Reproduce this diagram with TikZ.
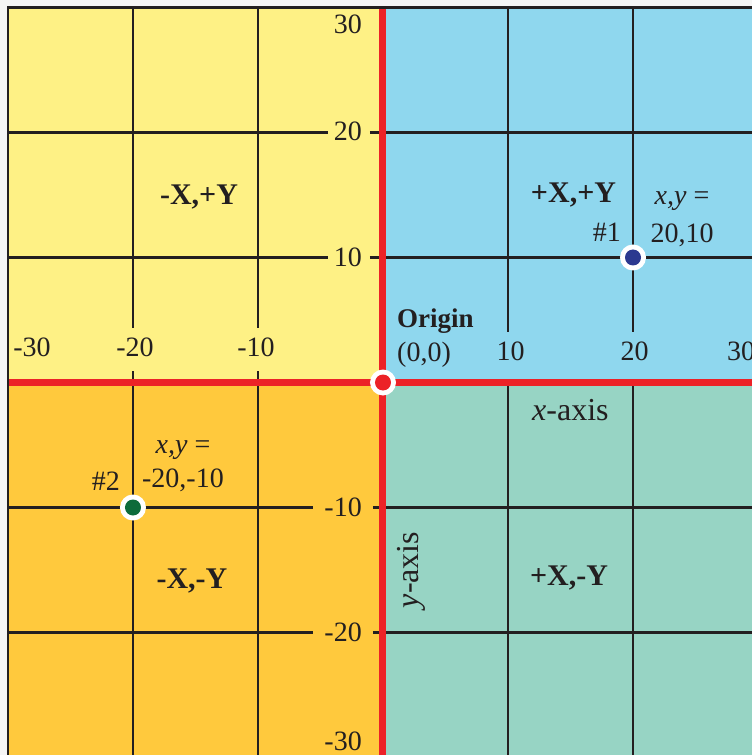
\documentclass[tikz,border=0pt]{standalone}
\usepackage{fontspec}
\setmainfont{Liberation Serif}
\definecolor{qTL}{HTML}{FEF185}
\definecolor{qTR}{HTML}{8FD7EE}
\definecolor{qBL}{HTML}{FFC93D}
\definecolor{qBR}{HTML}{97D4C4}
\definecolor{axred}{HTML}{EC2227}
\definecolor{gridk}{HTML}{231F20}
\definecolor{dotblue}{HTML}{2B3990}
\definecolor{dotgreen}{HTML}{0D6B3A}
\tikzset{
  gridln/.style={draw=gridk, line width=2.3pt},
  axis/.style={draw=axred, line width=7pt},
  num/.style={inner sep=0pt, font=\fontsize{28}{30}\selectfont, text=gridk},
  quad/.style={inner sep=0pt, font=\fontsize{30}{32}\selectfont\bfseries, text=gridk, anchor=base},
  axlbl/.style={inner sep=0pt, font=\fontsize{32}{34}\selectfont, text=gridk},
  ptlbl/.style={inner sep=0pt, font=\fontsize{28}{30}\selectfont, text=gridk, anchor=base},
}
\begin{document}
\begin{tikzpicture}[x=12.5pt,y=12.5pt]
\useasboundingbox (-30.64,-29.8) rectangle (29.52,30.6);
\fill[gray!8] (-30.64,-29.8) rectangle (29.52,30.6);
\clip (-30.64,-29.8) rectangle (29.52,30.6);
% quadrants
\fill[qTL] (-30,0) rectangle (0,30);
\fill[qTR] (0,0) rectangle (30,30);
\fill[qBL] (-30,-30) rectangle (0,0);
\fill[qBR] (0,-30) rectangle (30,0);
% vertical grid lines
\foreach \x in {-20,-10} {
  \draw[gridln] (\x,30) -- (\x,4.36);
  \draw[gridln] (\x,0.92) -- (\x,-30);
}
\foreach \x in {10,20} {
  \draw[gridln] (\x,30) -- (\x,4.06);
  \draw[gridln] (\x,0) -- (\x,-30);
}
% horizontal grid lines
\foreach \y in {20,10} {
  \draw[gridln] (-30,\y) -- (-4.4,\y);
  \draw[gridln] (-1.04,\y) -- (30,\y);
}
\foreach \y in {-10,-20} {
  \draw[gridln] (-30,\y) -- (-5.6,\y);
  \draw[gridln] (-0.8,\y) -- (30,\y);
}
% axes
\draw[axis] (-30,0) -- (30,0);
\draw[axis] (0,30) -- (0,-31);
% frame
\draw[gridk, line width=2.6pt] (-30,-30) rectangle (30,30);
% y labels
\node[num, anchor=east] (ly30) at (-1.68,28.68) {30};
\node[num, anchor=east] (ly20) at (-1.68,20.08) {20};
\node[num, anchor=east] (ly10) at (-1.68,10) {10};
\node[num, anchor=east] (lym10) at (-1.68,-10) {-10};
\node[num, anchor=east] (lym20) at (-1.68,-20) {-20};
\node[num, anchor=east] (lym30) at (-1.68,-28.7) {-30};
% x labels
\node[num] (lxm30) at (-28.08,2.84) {-30};
\node[num] (lxm20) at (-19.84,2.84) {-20};
\node[num] (lxm10) at (-10.16,2.84) {-10};
\node[num] (lx10) at (10.2,2.48) {10};
\node[num] (lx20) at (20.12,2.48) {20};
\node[num] (lx30) at (28.64,2.48) {30};
% origin label
\node[inner sep=0pt, anchor=base west, font=\fontsize{27}{29}\selectfont\bfseries, text=gridk] (orig) at (1.12,4.4) {Origin};
\node[num, anchor=base west] (orig00) at (1.12,1.72) {(0,0)};
% axis labels
\node[axlbl, anchor=base west] (xax) at (11.92,-3.05) {\textit{x}-axis};
\node[axlbl, anchor=base, rotate=90] (yax) at (2.8,-15.0) {\textit{y}-axis};
% quadrant labels
\node[quad] (qa) at (-14.72,14.2) {-X,+Y};
\node[quad] (qb) at (15.24,14.36) {+X,+Y};
\node[quad] (qc) at (-15.28,-16.44) {-X,-Y};
\node[quad] (qd) at (14.88,-16.2) {+X,-Y};
% point 1
\node[ptlbl, anchor=base east] (p1n) at (19.04,11.24) {\#1};
\node[ptlbl] (p1a) at (23.92,14.2) {\textit{x,y} =};
\node[ptlbl] (p1b) at (23.92,11.16) {20,10};
% point 2
\node[ptlbl, anchor=base east] (p2n) at (-21.04,-8.6) {\#2};
\node[ptlbl] (p2a) at (-16.0,-5.64) {\textit{x,y} =};
\node[ptlbl] (p2b) at (-16.0,-8.36) {-20,-10};
% dots
\fill[white] (20,10) circle (13pt);
\fill[dotblue] (20,10) circle (8pt);
\fill[white] (-20,-10) circle (13pt);
\fill[dotgreen] (-20,-10) circle (8pt);
\fill[white] (0,0) circle (13pt);
\fill[axred] (0,0) circle (8pt);
\end{tikzpicture}
\end{document}
